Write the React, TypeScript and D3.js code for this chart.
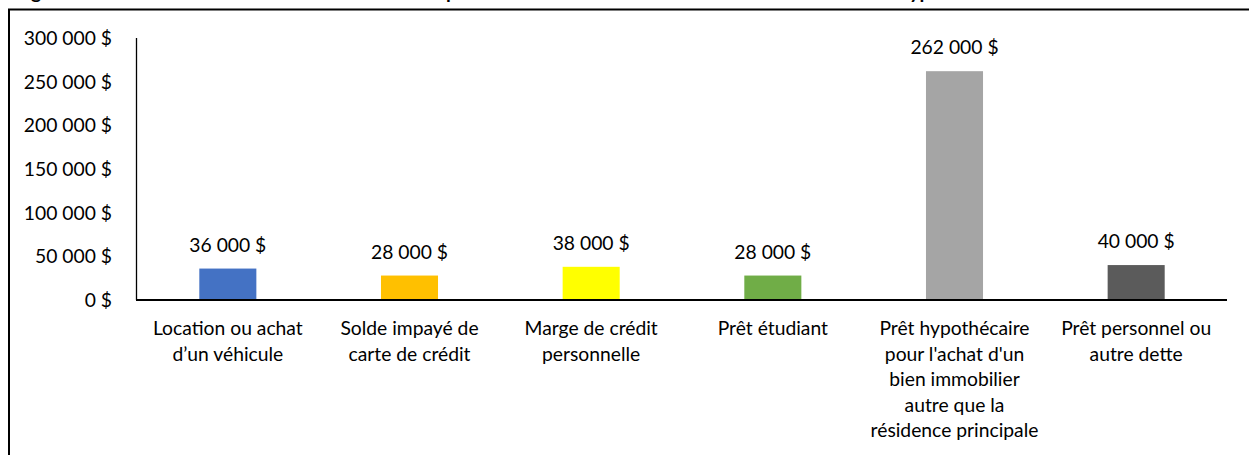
import React from 'react';
import * as d3 from "d3";

const categories: string[][] = [
    ["Location ou achat", "d\u2019un véhicule"],
    ["Solde impayé de", "carte de crédit"],
    ["Marge de crédit", "personnelle"],
    ["Prêt étudiant"],
    ["Prêt hypothécaire", "pour l'achat d'un", "bien immobilier", "autre que la", "résidence principale"],
    ["Prêt personnel ou", "autre dette"],
];
const values: number[] = [36000, 28000, 38000, 28000, 262000, 40000];
const barColors: string[] = ["#4472C4", "#FFC000", "#FFFF00", "#70AD47", "#A5A5A5", "#5B5B5B"];
const yTicks: number[] = [0, 50000, 100000, 150000, 200000, 250000, 300000];
const title = "Figure 4 : Montant médian du solde à rembourser pour les individus détenant à ce moment chacun des types de dette";

const fmt = (v: number) => d3.format(",")(v).replace(/,/g, " ") + " $";

const App: React.FC = () => {
    const width = 1249;
    const height = 455;
    const font = "Lato, 'Open Sans', sans-serif";
    const fontSize = 19.3;

    // échelles
    const x = d3.scaleBand<number>()
        .domain(values.map((_, i) => i))
        .range([137, 1227])
        .paddingInner(0.686)
        .paddingOuter(0.343);

    const y = d3.scaleLinear()
        .domain([0, 300000])
        .range([300, 38]);

    const center = (i: number) => (x(i) || 0) + x.bandwidth() / 2;

    return (
        <div style={{ position: "absolute", left: 0, top: 0 }}>
            <svg width={width} height={height} style={{ display: "block", overflow: "hidden" }}
                fontFamily={font} fontSize={fontSize}>
                <rect x={0} y={0} width={width} height={height} fill="#fff" />
                {/* titre (coupé en haut, comme dans l'original) */}
                <text x={15} y={-1} fontWeight={700} fontSize={19.5} fill="#000">{title}</text>
                {/* cadre */}
                <path d={`M9,${height + 5} V9.5 H${width + 5}`} fill="none" stroke="#000" strokeWidth={2} />

                {/* barres */}
                {values.map((v, i) => (
                    <rect key={i} x={x(i)} y={y(v)} width={x.bandwidth()} height={y(0) - y(v)} fill={barColors[i]} />
                ))}

                {/* étiquettes de valeurs */}
                {values.map((v, i) => (
                    <text key={i} x={center(i)} y={y(v) - 17} textAnchor="middle" fill="#000">{fmt(v)}</text>
                ))}

                {/* axe Y */}
                <line x1={136.5} x2={136.5} y1={y(300000)} y2={y(0)} stroke="#000" strokeWidth={1.3} />
                {yTicks.map(t => (
                    <text key={t} x={112} y={y(t) + 7} textAnchor="end" fill="#000">{fmt(t)}</text>
                ))}

                {/* axe X */}
                <line x1={136} x2={1227} y1={y(0)} y2={y(0)} stroke="#000" strokeWidth={2} />
                {categories.map((lines, i) => (
                    <text key={i} x={center(i)} y={335} textAnchor="middle" fill="#000">
                        {lines.map((l, j) => (
                            <tspan key={j} x={center(i)} dy={j === 0 ? 0 : 25.6}>{l}</tspan>
                        ))}
                    </text>
                ))}
            </svg>
        </div>
    );
};

export default App;
